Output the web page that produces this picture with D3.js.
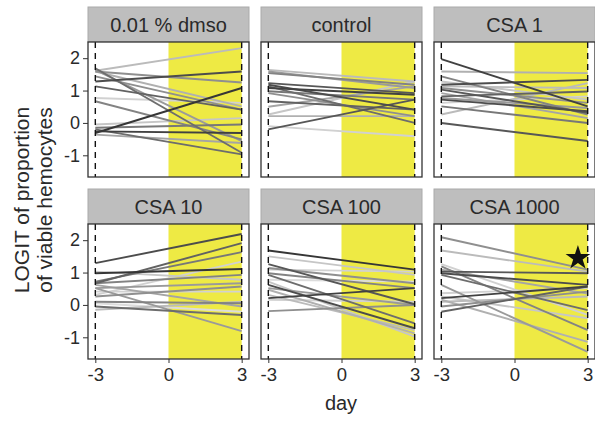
<!DOCTYPE html>
<html><head><meta charset="utf-8">
<script src="https://cdn.jsdelivr.net/npm/d3@7"></script>
<style>body{margin:0;background:#fff}svg{display:block}text{font-family:"Liberation Sans",Arial,sans-serif}</style>
</head><body><svg id="c" width="595" height="421"></svg>
<script>
const panels = ["0.01 % dmso","control","CSA 1","CSA 10","CSA 100","CSA 1000"];
const days = [-3, 3];
const xTicks = [-3, 0, 3];
const yTicks = [-1, 0, 1, 2];
const treatStart = 0, treatEnd = 3;

// LOGIT values at day -3 and day 3, with individual id (1 = darkest ... 16 = lightest)
const dmso_pre  = [1.61,1.28,1.59,1.69,1.64,1.13,0.77,0.67,-0.05,-0.31,-0.26,-0.15,-0.20,-0.36,1.59,1.44];
const dmso_post = [2.31,1.59,1.25,-0.92,-0.56,0.41,0.62,-0.51,0.15,1.08,-0.31,-0.05,-0.97,-0.62,0.51,0.41];
const dmso_id   = [13,3,9,6,10,5,15,8,14,1,2,7,6,11,12,9];

const ctrl_pre  = [1.64,1.59,1.54,1.23,1.18,1.13,1.08,0.92,0.67,0.26,0.21,-0.10,-0.20,0.50,0.98];
const ctrl_post = [1.28,1.08,1.18,0.92,0.41,0.00,0.87,0.21,0.41,1.28,0.21,-0.41,0.72,1.13,0.72];
const ctrl_id   = [13,10,8,4,3,6,2,9,5,14,12,15,4,11,7];

const csa1_pre  = [1.97,1.59,1.44,1.28,1.18,1.13,1.08,1.03,0.82,0.77,0.72,0.62,0.51,0.26,0.00,0.92];
const csa1_post = [0.51,1.54,0.26,0.72,1.33,1.08,0.62,0.31,0.97,0.46,0.36,0.82,0.00,1.23,-0.56,0.15];
const csa1_id   = [2,12,8,14,3,13,9,4,5,10,3,15,7,13,4,11];

const csa10_pre  = [1.29,0.67,0.72,0.31,0.98,0.67,1.03,0.52,0.26,0.41,0.10,0.05,0.62,-0.05,-0.15,0.52];
const csa10_post = [2.19,1.91,1.63,1.34,1.11,0.93,0.78,0.67,0.57,0.41,0.05,-0.21,-0.05,-0.31,0.10,-0.81];
const csa10_id   = [3,5,7,15,1,8,14,10,9,15,8,16,11,6,13,10];

const csa100_pre  = [1.68,1.50,1.26,1.14,1.09,0.98,0.93,0.78,0.62,0.52,0.47,0.31,0.21,0.16,-0.19,0.72];
const csa100_post = [1.09,0.93,0.02,0.67,1.03,0.52,-0.57,0.72,-0.72,0.00,-0.88,-0.78,0.52,0.10,0.00,-0.98];
const csa100_id   = [1,14,4,9,15,8,6,16,3,10,12,13,2,15,9,14];

const csa1000_pre  = [2.09,1.68,1.26,1.19,1.03,0.98,0.93,0.62,0.36,0.26,0.21,0.10,-0.05,-0.21,0.16,1.09];
const csa1000_post = [1.09,1.03,-0.31,-0.78,0.98,0.62,-0.16,-1.45,0.52,-0.41,0.57,0.26,0.41,0.57,-1.14,0.35];
const csa1000_id   = [9,13,15,8,4,3,6,10,15,14,2,13,9,5,12,11];

const groups = [
  [dmso_pre, dmso_post, dmso_id],
  [ctrl_pre, ctrl_post, ctrl_id],
  [csa1_pre, csa1_post, csa1_id],
  [csa10_pre, csa10_post, csa10_id],
  [csa100_pre, csa100_post, csa100_id],
  [csa1000_pre, csa1000_post, csa1000_id]
];
const starPanel = "CSA 1000", starDay = 2.6, starValue = 1.45;

const svg = d3.select("#c");
const W = 161, H = 135, stripH = 35;
const colX = [88, 261, 434];
const rowY = [7, 189];
const x = d3.scaleLinear().domain([-3.3, 3.3]).range([0, W]);
const y = d3.scaleLinear().domain([-1.67, 2.5]).range([H, 0]);
const gray = d3.scaleLinear().domain([1, 16]).range(["#363636", "#dcdcdc"]);
const txt = "#2a2a2a";
const fmt = d => String(d);

panels.forEach((name, i) => {
  const c = i % 3, r = Math.floor(i / 3);
  const g = svg.append("g").attr("transform", `translate(${colX[c]},${rowY[r]})`);
  g.append("rect").attr("x", 0).attr("y", 0).attr("width", W).attr("height", stripH)
    .attr("fill", "#bebebe").attr("stroke", "#aaaaaa").attr("stroke-width", 1);
  g.append("text").attr("x", W / 2).attr("y", stripH / 2 + 7).attr("text-anchor", "middle")
    .attr("font-size", 20).attr("fill", txt).text(name);
  const p = g.append("g").attr("transform", `translate(0,${stripH})`);
  p.append("rect").attr("width", W).attr("height", H).attr("fill", "#fff");
  p.append("rect").attr("x", x(treatStart)).attr("y", 0)
    .attr("width", x(treatEnd) - x(treatStart)).attr("height", H).attr("fill", "#eeea44");
  const [pre, post, ids] = groups[i];
  const lines = pre.map((v, k) => ({pts: [[days[0], v], [days[1], post[k]]], id: ids[k]}));
  lines.sort((a, b) => b.id - a.id);
  const line = d3.line().x(d => x(d[0])).y(d => y(d[1]));
  p.selectAll("path.l").data(lines).join("path").attr("class", "l")
    .attr("d", d => line(d.pts)).attr("fill", "none")
    .attr("stroke", d => gray(d.id)).attr("stroke-width", 1.9);
  days.forEach(dd => {
    p.append("line").attr("x1", x(dd)).attr("x2", x(dd)).attr("y1", 0).attr("y2", H)
      .attr("stroke", "#111").attr("stroke-width", 1.4).attr("stroke-dasharray", "6,5");
  });
  if (name === starPanel) {
    p.append("path").attr("d", d3.symbol(d3.symbolStar, 190)())
      .attr("transform", `translate(${x(starDay)},${y(starValue)})`).attr("fill", "#111");
  }
  p.append("rect").attr("width", W).attr("height", H).attr("fill", "none")
    .attr("stroke", "#333").attr("stroke-width", 1.3);
  if (c === 0) {
    const ay = p.append("g").call(d3.axisLeft(y).tickValues(yTicks).tickSize(5).tickPadding(3).tickFormat(fmt));
    ay.select(".domain").remove();
    ay.selectAll("line").attr("stroke", "#333");
    ay.selectAll("text").attr("font-size", 18).attr("fill", txt).attr("font-family", "Liberation Sans, Arial, sans-serif");
  }
  if (r === 1) {
    const ax = p.append("g").attr("transform", `translate(0,${H})`)
      .call(d3.axisBottom(x).tickValues(xTicks).tickSize(4).tickPadding(5).tickFormat(fmt));
    ax.select(".domain").remove();
    ax.selectAll("line").attr("stroke", "#333");
    ax.selectAll("text").attr("font-size", 18.5).attr("fill", txt).attr("font-family", "Liberation Sans, Arial, sans-serif");
  }
});

svg.append("text").attr("x", 341).attr("y", 410).attr("text-anchor", "middle")
  .attr("font-size", 20).attr("fill", txt).text("day");
const yt = svg.append("text").attr("transform", "translate(0,200) rotate(-90)")
  .attr("text-anchor", "middle").attr("font-size", 21).attr("fill", txt);
yt.append("tspan").attr("x", 0).attr("y", 29).text("LOGIT of proportion");
yt.append("tspan").attr("x", 0).attr("y", 52).text("of viable hemocytes");
</script></body></html>
